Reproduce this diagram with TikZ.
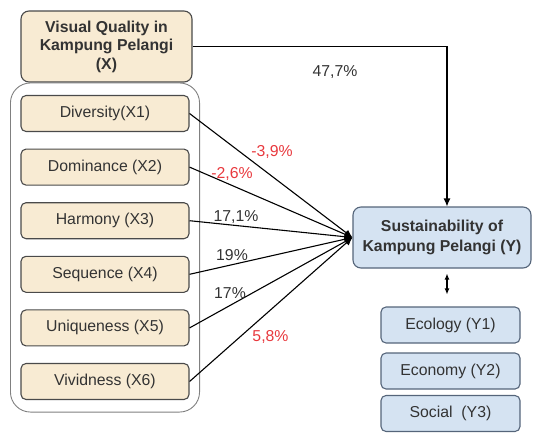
\documentclass[tikz,border=0pt]{standalone}
\usepackage{fontspec}
\setmainfont{Liberation Sans}
\usetikzlibrary{arrows.meta,fit}

\definecolor{sand}{HTML}{F8EBD3}
\definecolor{sky}{HTML}{D5E3F2}
\definecolor{edge}{HTML}{4A4A4A}
\definecolor{skyedge}{HTML}{55657A}
\definecolor{ink}{HTML}{333333}
\definecolor{neg}{HTML}{E8383D}

\begin{document}
\begin{tikzpicture}[x=1pt, y=-1pt, line width=1.1pt, font=\fontsize{15.8}{18.5}\selectfont, text=ink]

    \tikzset{block/.style={%
      draw=edge,%
      fill=sand,%
      rectangle,%
      rounded corners=5pt,%
      minimum width=168pt,%
      minimum height=36pt}%
    };

    \tikzset{bigblock/.style={block, font=\fontsize{15.8}{18.5}\selectfont\bfseries, align=center, rounded corners=8pt}};
    \tikzset{yblock/.style={block, fill=sky, draw=skyedge, minimum width=139pt}};
    \tikzset{group/.style={draw=gray, line width=0.9pt, rounded corners=20pt, inner xsep=10pt, inner ysep=12pt}};
    \tikzset{link/.style={-{Latex[length=8pt,width=7pt]}, black}};
    \tikzset{pct/.style={text=ink}};
    \tikzset{negpct/.style={text=neg}};

    \useasboundingbox (0,0) rectangle (533,432);

    %%%%%%%%%%%%%%%
    %  visual     %
    %%%%%%%%%%%%%%%
    \node [bigblock, minimum width=171pt, minimum height=71pt] (vq) at (106.5, 46.5)
      {Visual Quality in\\Kampung Pelangi\\(X)};

    \node [block] (div) at (105, 113.5) {Diversity(X1)};
    \node [block] (dom) at (105, 167.1) {Dominance (X2)};
    \node [block] (har) at (105, 220.7) {Harmony (X3)};
    \node [block] (seq) at (105, 274.3) {Sequence (X4)};
    \node [block] (uni) at (105, 327.9) {Uniqueness (X5)};
    \node [block] (viv) at (105, 381.5) {Vividness (X6)};

    \node [group, fit=(div)(viv)] (grp) {};

    %%%%%%%%%%%%%%%
    %  sustain    %
    %%%%%%%%%%%%%%%
    \node [bigblock, fill=sky, draw=skyedge, minimum width=178pt, minimum height=61pt,
      font=\fontsize{15.8}{20}\selectfont\bfseries] (sus) at (442, 237.5)
      {Sustainability of\\Kampung Pelangi (Y)};

    \node [yblock] (eco) at (450.5, 325) {Ecology (Y1)};
    \node [yblock] (ecn) at (450.5, 371) {Economy (Y2)};
    \node [yblock] (soc) at (450.5, 413.5) {Social\ \ (Y3)};

    \draw [link] (vq.east) -| ([xshift=5pt]sus.north);
    \draw [link] (div.east) -- (sus.west);
    \draw [link] (dom.east) -- (sus.west);
    \draw [link] (har.east) -- (sus.west);
    \draw [link] (seq.east) -- (sus.west);
    \draw [link] (uni.east) -- (sus.west);
    \draw [link] (viv.east) -- (sus.west);
    \draw [{Latex[length=6pt,width=5pt]}-{Latex[length=6pt,width=5pt]}, shorten <=5pt, shorten >=12pt]
      ([xshift=-3.5pt]eco.north |- sus.south) -- ([xshift=-3.5pt]eco.north);

    \node [pct] (p0) at (335, 72) {47,7\%};
    \node [negpct] (p1) at (272, 152) {-3,9\%};
    \node [negpct] (p2) at (232, 174) {-2,6\%};
    \node [pct] (p3) at (236, 217) {17,1\%};
    \node [pct] (p4) at (232, 255) {19\%};
    \node [pct] (p5) at (230, 293) {17\%};
    \node [negpct] (p6) at (270.5, 337) {5,8\%};

  \end{tikzpicture}
\end{document}
